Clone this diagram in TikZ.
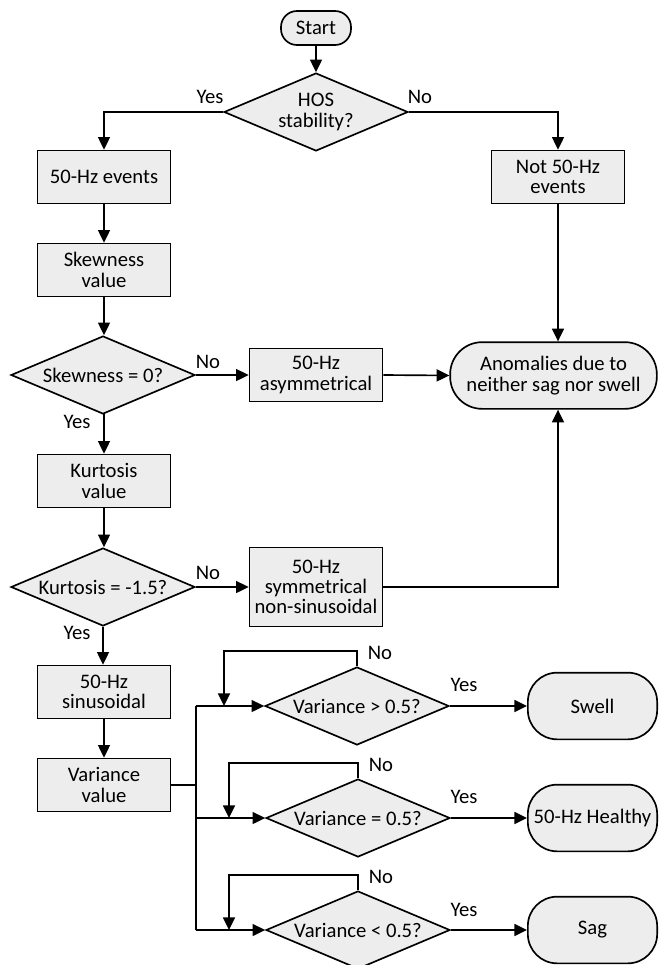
\documentclass[tikz,border=0pt]{standalone}
\usepackage{fontspec}
\setmainfont{Carlito}
\usetikzlibrary{shapes.geometric,arrows.meta}
\begin{document}
\begin{tikzpicture}[x=0.75pt,y=-0.75pt,
  every node/.style={font=\fontsize{15.5}{15.2}\selectfont},
  proc/.style={draw,line width=1.25pt,fill=black!7,minimum width=99.75pt,minimum height=39.75pt,inner sep=1pt,align=center},
  decide/.style={draw,line width=1.25pt,fill=black!7,shape=diamond,aspect=2.36,inner sep=-3pt,minimum width=138pt,minimum height=58.5pt,align=center},
  term/.style={draw,line width=1.25pt,fill=black!7,rounded corners=22pt,minimum height=50pt,inner sep=1pt,align=center},
  lbl/.style={inner sep=0pt},
  arr/.style={line width=1.25pt,-{Triangle[length=9.5pt,width=9pt]}},
  ln/.style={line width=1.25pt}]
\useasboundingbox (0,0) rectangle (659,965);

% nodes
\node[draw,line width=1.25pt,fill=black!7,rounded corners=12pt,minimum width=52.5pt,minimum height=25.5pt,inner sep=1pt] (start) at (316,28) {Start};
\node[decide] (hos) at (316,112) {HOS\\stability?};
\node[proc] (ev50) at (104,177) {50-Hz events};
\node[proc] (not50) at (558,177) {Not 50-Hz\\events};
\node[proc] (skv) at (104,270) {Skewness\\value};
\node[decide] (skd) at (103,375) {Skewness = 0?};
\node[proc] (asym) at (316,375) {50-Hz\\asymmetrical};
\node[term,minimum width=155pt,rounded corners=24pt] (anom) at (553.5,375.5) {Anomalies due to\\neither sag nor swell};
\node[proc] (kv) at (104,481) {Kurtosis\\value};
\node[decide] (kd) at (103,587) {Kurtosis = -1.5?};
\node[proc,minimum height=59.25pt] (sym) at (316,587) {50-Hz\\symmetrical\\non-sinusoidal};
\node[proc] (sin) at (104,692) {50-Hz\\sinusoidal};
\node[proc] (var) at (104,785) {Variance\\value};
\node[decide] (v1) at (357,706) {Variance > 0.5?};
\node[decide] (v2) at (358,818) {Variance = 0.5?};
\node[decide] (v3) at (358,930) {Variance < 0.5?};
\node[term,minimum width=97pt] (swell) at (592.5,706) {Swell};
\node[term,minimum width=97pt] (healthy) at (592.5,818) {50-Hz Healthy};
\node[term,minimum width=97pt] (sag) at (592.5,930) {Sag};

% labels
\node[lbl] (y1) at (210,97) {Yes};
\node[lbl] (n1) at (420,97) {No};
\node[lbl] (n2) at (208,362) {No};
\node[lbl] (y2) at (77,422) {Yes};
\node[lbl] (n3) at (208,573) {No};
\node[lbl] (y3) at (77,633) {Yes};
\node[lbl] (n4) at (380,653) {No};
\node[lbl] (n5) at (381,765) {No};
\node[lbl] (n6) at (381,877) {No};
\node[lbl] (y4) at (464,685) {Yes};
\node[lbl] (y5) at (464,797) {Yes};
\node[lbl] (y6) at (464,910) {Yes};

% coordinates
\coordinate (jt) at (196,706);
\coordinate (jm) at (196,785);
\coordinate (jb) at (196,930);
\coordinate (l1) at (224,706);
\coordinate (l2) at (229,818);
\coordinate (l3) at (229,930);

% connectors
\draw[arr] (start.south) -- (hos.north);
\draw[arr] (hos.west) -| (ev50.north);
\draw[arr] (hos.east) -| (not50.north);
\draw[arr] (ev50.south) -- (skv.north);
\draw[arr] (skv.south) -- (skv.south |- skd.north);
\draw[arr] (not50.south) -- (not50.south |- anom.north);
\draw[arr] (skd.east) -- (asym.west);
\draw[arr] (asym.east) -- (anom.west);
\draw[arr] (skd.south) -- (skd.south -| kv.north) -- (kv.north);
\draw[arr] (kv.south) -- (kv.south |- kd.north);
\draw[arr] (kd.east) -- (sym.west);
\draw[arr] (sym.east) -| (not50.south |- anom.south);
\draw[arr] (kd.south) -- (kd.south |- sin.north);
\draw[arr] (sin.south) -- (var.north);
\draw[ln] (var.east) -- (jm);
\draw[ln] (jt) -- (jb);
\draw[arr] (jt) -- (v1.west);
\draw[arr] (jt |- v2.west) -- (v2.west);
\draw[arr] (jb) -- (v3.west);
\draw[arr] (v1.north) -- ++(0,-15) -| (l1);
\draw[arr] (v2.north) -- ++(0,-15) -| (l2);
\draw[arr] (v3.north) -- ++(0,-15) -| (l3);
\draw[arr] (v1.east) -- (swell.west);
\draw[arr] (v2.east) -- (healthy.west);
\draw[arr] (v3.east) -- (sag.west);
\end{tikzpicture}
\end{document}
